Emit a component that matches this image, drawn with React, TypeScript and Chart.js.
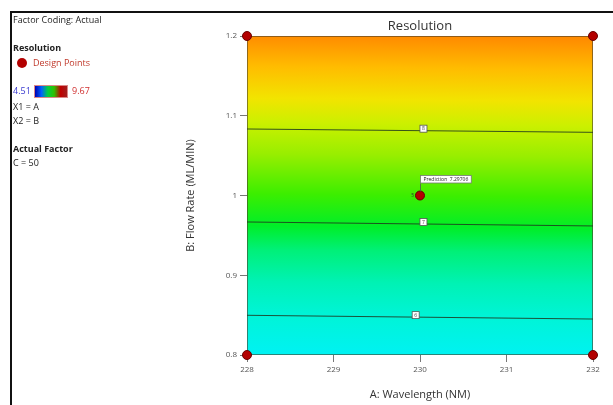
import React, { useEffect, useRef } from "react";
import { Chart, registerables } from "chart.js";

Chart.register(...registerables);

// ---------- data ----------
const xTicks = [228, 229, 230, 231, 232];
const yTicks = [0.8, 0.9, 1, 1.1, 1.2];
const designA = [228, 228, 232, 232, 230];
const designB = [0.8, 1.2, 0.8, 1.2, 1.0];
const contourLevels = ["6", "7", "8"];
const contourLeftB = [0.8498, 0.9668, 1.0834];
const contourRightB = [0.8451, 0.9618, 1.0792];
const contourLabelA = [229.95, 230.04, 230.04];
const predictionPoint = [230, 1.0];
const predictionValue = "7.29706";
const centerReplicates = "5";
const colorMin = "4.51";
const colorMax = "9.67";

// gradient (style) stops keyed to B at the chart centre
const gradientB = [0.8, 0.85, 0.89, 0.93, 0.96, 1.0, 1.05, 1.09, 1.12, 1.16, 1.2];
const gradientColors = [
  "#00f2f2",
  "#00f4d6",
  "#00f2b4",
  "#00f078",
  "#00ee28",
  "#3cee00",
  "#98ee00",
  "#ccf000",
  "#f2e400",
  "#ffbc00",
  "#ff8a00",
];

const FONT = "'Open Sans', 'Noto Sans', sans-serif";

const backgroundPlugin = {
  id: "surface",
  beforeDatasetsDraw(chart: any) {
    const { ctx, chartArea, scales } = chart;
    const x = scales.x;
    const y = scales.y;
    const xl = x.getPixelForValue(228);
    const xr = x.getPixelForValue(232);
    let m = 0;
    for (let i = 0; i < contourLeftB.length; i++) {
      m += (y.getPixelForValue(contourRightB[i]) - y.getPixelForValue(contourLeftB[i])) / (xr - xl);
    }
    m /= contourLeftB.length;
    const cx = (chartArea.left + chartArea.right) / 2;
    const yb = y.getPixelForValue(0.8);
    const yt = y.getPixelForValue(1.2);
    const H = yb - yt;
    const k = 1 + m * m;
    const g = ctx.createLinearGradient(cx, yb, cx + (m * H) / k, yb - H / k);
    for (let i = 0; i < gradientB.length; i++) {
      g.addColorStop((gradientB[i] - 0.8) / 0.4, gradientColors[i]);
    }
    ctx.save();
    ctx.fillStyle = g;
    ctx.fillRect(chartArea.left, chartArea.top, chartArea.right - chartArea.left, chartArea.bottom - chartArea.top);
    ctx.strokeStyle = "rgba(70,60,40,0.6)";
    ctx.lineWidth = 1;
    ctx.strokeRect(chartArea.left + 0.5, chartArea.top + 0.5, chartArea.right - chartArea.left - 1, chartArea.bottom - chartArea.top - 1);
    ctx.restore();
  },
  afterDatasetsDraw(chart: any) {
    const { ctx, chartArea, scales } = chart;
    const x = scales.x;
    const y = scales.y;
    ctx.save();
    // contour labels
    for (let i = 0; i < contourLevels.length; i++) {
      const a = contourLabelA[i];
      const t = (a - 228) / 4;
      const b = contourLeftB[i] + (contourRightB[i] - contourLeftB[i]) * t;
      const px = x.getPixelForValue(a);
      const py = y.getPixelForValue(b) - 2;
      ctx.fillStyle = "#ffffff";
      ctx.fillRect(px - 3.5, py - 3.5, 7, 7);
      ctx.strokeStyle = "#555";
      ctx.lineWidth = 0.8;
      ctx.strokeRect(px - 3.5, py - 3.5, 7, 7);
      ctx.fillStyle = "#444";
      ctx.font = `5px ${FONT}`;
      ctx.textAlign = "center";
      ctx.textBaseline = "middle";
      ctx.fillText(contourLevels[i], px, py + 0.3);
    }
    // prediction
    const ppx = x.getPixelForValue(predictionPoint[0]);
    const ppy = y.getPixelForValue(predictionPoint[1]);
    ctx.strokeStyle = "#555";
    ctx.lineWidth = 0.8;
    ctx.beginPath();
    ctx.moveTo(ppx + 0.5, ppy - 4);
    ctx.lineTo(ppx + 0.5, ppy - 12);
    ctx.stroke();
    ctx.font = `5px ${FONT}`;
    const label = `Prediction  ${predictionValue}`;
    const w = ctx.measureText(label).width + 6;
    ctx.fillStyle = "#fff";
    ctx.fillRect(ppx + 0.5, ppy - 20, w, 7.5);
    ctx.strokeStyle = "#777";
    ctx.strokeRect(ppx + 0.5, ppy - 20, w, 7.5);
    ctx.fillStyle = "#222";
    ctx.textAlign = "left";
    ctx.textBaseline = "middle";
    ctx.fillText(label, ppx + 3.5, ppy - 16.1);
    ctx.fillStyle = "#333";
    ctx.textAlign = "right";
    ctx.fillText(centerReplicates, ppx - 6, ppy);
    // title
    ctx.fillStyle = "#333";
    ctx.font = `13px ${FONT}`;
    ctx.textAlign = "center";
    ctx.textBaseline = "middle";
    ctx.fillText("Resolution", (chartArea.left + chartArea.right) / 2, chartArea.top - 10);
    ctx.restore();
  },
};

export default function App() {
  const ref = useRef<HTMLCanvasElement | null>(null);

  useEffect(() => {
    document.body.style.margin = "0";
    const canvas = ref.current;
    if (!canvas) return;

    const datasets: any[] = contourLevels.map((lvl, i) => ({
      type: "line",
      label: `contour ${lvl}`,
      data: [
        { x: 228, y: contourLeftB[i] },
        { x: 232, y: contourRightB[i] },
      ],
      borderColor: "rgba(30,55,30,0.85)",
      borderWidth: 1,
      pointRadius: 0,
      showLine: true,
      fill: false,
    }));
    datasets.push({
      type: "scatter",
      label: "Design Points",
      data: designA.map((a, i) => ({ x: a, y: designB[i] })),
      backgroundColor: "#b30000",
      borderColor: "#6a0000",
      borderWidth: 1,
      pointRadius: 4.5,
      clip: false,
    });

    const chart = new Chart(canvas, {
      type: "scatter",
      data: { datasets },
      options: {
        animation: false,
        responsive: false,
        devicePixelRatio: 1,
        layout: { padding: { left: 180, right: 20, top: 36, bottom: 0 } },
        plugins: { legend: { display: false }, tooltip: { enabled: false }, title: { display: false } },
        scales: {
          x: {
            type: "linear",
            min: 228,
            max: 232,
            afterBuildTicks: (s: any) => {
              s.ticks = xTicks.map((v) => ({ value: v }));
            },
            afterFit: (s: any) => {
              s.height = 50;
            },
            ticks: { color: "#555", font: { size: 8, family: FONT }, padding: 3, maxRotation: 0 },
            grid: { drawOnChartArea: false, drawTicks: true, tickLength: 7, color: "#777" },
            border: { display: false },
            title: { display: true, text: "A: Wavelength (NM)", color: "#333", font: { size: 11, family: FONT }, padding: { top: 4, bottom: 4 } },
          },
          y: {
            type: "linear",
            min: 0.8,
            max: 1.2,
            afterBuildTicks: (s: any) => {
              s.ticks = yTicks.map((v) => ({ value: v }));
            },
            afterFit: (s: any) => {
              s.width = 67;
            },
            ticks: {
              color: "#555",
              font: { size: 8, family: FONT },
              padding: 3,
              callback: (v: any) => String(Math.round(Number(v) * 10) / 10),
            },
            grid: { drawOnChartArea: false, drawTicks: true, tickLength: 7, color: "#777" },
            border: { display: false },
            title: { display: true, text: "B: Flow Rate (ML/MIN)", color: "#333", font: { size: 11, family: FONT }, padding: { top: 4, bottom: 4 } },
          },
        },
      },
      plugins: [backgroundPlugin],
    } as any);

    return () => chart.destroy();
  }, []);

  const t = (top: number, left: number, extra: React.CSSProperties = {}): React.CSSProperties => ({
    position: "absolute",
    top,
    left,
    fontFamily: FONT,
    fontSize: 9,
    lineHeight: "12px",
    color: "#222",
    whiteSpace: "nowrap",
    ...extra,
  });

  return (
    <div style={{ position: "fixed", left: 0, top: 0, width: 613, height: 405, background: "#fff", overflow: "hidden" }}>
      <canvas ref={ref} width={613} height={405} style={{ position: "absolute", left: 0, top: 0, width: 613, height: 405 }} />
      <div style={{ position: "absolute", left: 10, top: 11, width: 603, height: 2, background: "#111" }} />
      <div style={{ position: "absolute", left: 10, top: 11, width: 2, height: 394, background: "#111" }} />
      <div style={t(14, 13)}>Factor Coding: Actual</div>
      <div style={t(42, 13, { fontWeight: 700 })}>Resolution</div>
      <div style={{ position: "absolute", left: 17, top: 58, width: 10, height: 10, borderRadius: 5, background: "#b30000" }} />
      <div style={t(57, 33, { color: "#c0392b" })}>Design Points</div>
      <div style={t(85, 13, { color: "#3a3ad0" })}>{colorMin}</div>
      <div
        style={{
          position: "absolute",
          left: 34,
          top: 85,
          width: 34,
          height: 13,
          background: "linear-gradient(to right, #0000b0, #0060ff, #00d040, #30c000, #c00000, #a02020)",
          boxSizing: "border-box",
          border: "1px solid #d88",
        }}
      />
      <div style={t(85, 72, { color: "#d03030" })}>{colorMax}</div>
      <div style={t(101, 13)}>X1 = A</div>
      <div style={t(115, 13)}>X2 = B</div>
      <div style={t(143, 13, { fontWeight: 700 })}>Actual Factor</div>
      <div style={t(157, 13)}>C = 50</div>
    </div>
  );
}
